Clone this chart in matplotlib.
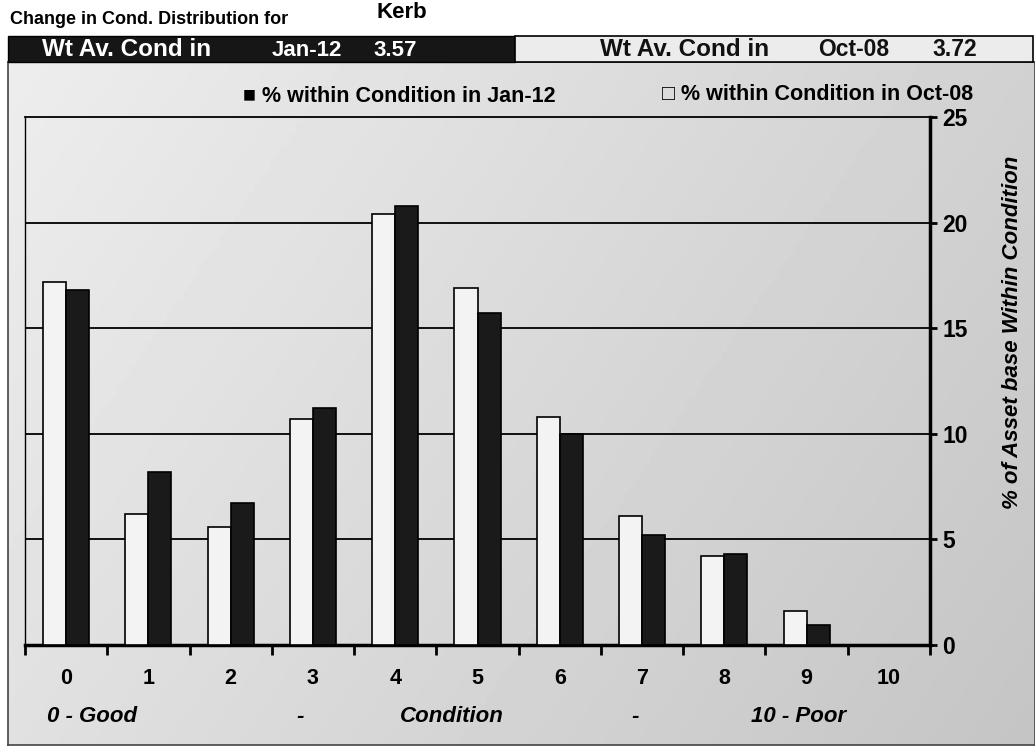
import matplotlib.pyplot as plt
import numpy as np
from matplotlib.patches import Rectangle
from matplotlib.transforms import blended_transform_factory

plt.rcParams['font.family'] = ['Liberation Sans', 'DejaVu Sans']
plt.rcParams['font.weight'] = 'bold'

# data
categories = [0, 1, 2, 3, 4, 5, 6, 7, 8, 9, 10]
pct_oct08 = [17.2, 6.2, 5.6, 10.7, 20.4, 16.9, 10.8, 6.1, 4.2, 1.6, 0.0]
pct_jan12 = [16.8, 8.2, 6.7, 11.2, 20.8, 15.7, 10.0, 5.2, 4.3, 0.95, 0.0]
y_ticks = [0, 5, 10, 15, 20, 25]
scale_words = ['0 - Good', '-', 'Condition', '-', '10 - Poor']
scale_pos = [0.31, 2.84, 4.69, 6.91, 8.9]
asset = 'Kerb'
new_date, new_avg = 'Jan-12', '3.57'
old_date, old_avg = 'Oct-08', '3.72'

W, H = 1035, 749
fig = plt.figure(figsize=(W / 100, H / 100), dpi=100)
fig.patch.set_facecolor('white')


def fx(px):
    return px / W


def fy(py):
    return 1 - py / H


# gradient background of the chart box
bg = fig.add_axes([fx(8), fy(745), fx(1027), (745 - 62) / H])
gx = np.linspace(0, 1, 200)
gy = np.linspace(0, 1, 200)
GX, GY = np.meshgrid(gx, gy)
shade = 0.93 - 0.11 * GX - 0.05 * GY
bg.imshow(shade, cmap='gray', vmin=0, vmax=1, aspect='auto', extent=[0, 1, 1, 0])
bg.set_xticks([])
bg.set_yticks([])
for s in bg.spines.values():
    s.set_color('#444444')
    s.set_linewidth(1.2)

# header bars
fig.patches.append(Rectangle((fx(8), fy(62)), fx(507), 26 / H, transform=fig.transFigure,
                             facecolor='#161616', edgecolor='black', zorder=2))
fig.patches.append(Rectangle((fx(515), fy(62)), fx(518), 26 / H, transform=fig.transFigure,
                             facecolor='#ececec', edgecolor='black', lw=1.2, zorder=2))

fig.text(fx(10), fy(19), 'Change in Cond. Distribution for', fontsize=13, va='center', ha='left')
fig.text(fx(376), fy(13), asset, fontsize=16, va='center', ha='left')

fig.text(fx(42), fy(50), 'Wt Av. Cond in', color='white', fontsize=17.5, va='center', zorder=3)
fig.text(fx(272), fy(50), new_date, color='white', fontsize=16, va='center', zorder=3)
fig.text(fx(373), fy(50), new_avg, color='white', fontsize=16, va='center', zorder=3)
fig.text(fx(600), fy(49), 'Wt Av. Cond in', color='#111111', fontsize=17.5, va='center', zorder=3)
fig.text(fx(818), fy(49), old_date, color='#111111', fontsize=16.5, va='center', zorder=3)
fig.text(fx(932), fy(49), old_avg, color='#111111', fontsize=16.5, va='center', zorder=3)

fig.text(fx(243), fy(97), '\u25a0 % within Condition in ' + new_date, fontsize=15.5, va='center')
fig.text(fx(662), fy(95), '\u25a1 % within Condition in ' + old_date, fontsize=15.5, va='center')

# main plot
ax = fig.add_axes([fx(25), fy(645), fx(905), (645 - 117) / H])
ax.patch.set_alpha(0)
x = np.array(categories)
bw = 0.28
ax.bar(x - bw / 2, pct_oct08, bw, color='#f3f3f3', edgecolor='black', linewidth=1.2, zorder=3)
ax.bar(x + bw / 2, pct_jan12, bw, color='#1a1a1a', edgecolor='black', linewidth=1.2, zorder=3)

ax.set_xlim(-0.5, 10.5)
ax.set_ylim(0, 25)
for yv in y_ticks[1:-1]:
    ax.axhline(yv, color='black', lw=1.3, zorder=1)

ax.yaxis.tick_right()
ax.set_yticks(y_ticks)
ax.tick_params(axis='y', direction='out', length=5, width=2, labelsize=16.5, pad=4)
fig.text(fx(1012), fy(332), '% of Asset base Within Condition', fontsize=16, style='italic',
         rotation=90, ha='center', va='center')

ax.set_xticks(np.arange(-0.5, 11, 1))
ax.set_xticklabels([])
ax.tick_params(axis='x', direction='out', length=7, width=2)
tr = blended_transform_factory(ax.transData, ax.transAxes)
for c in categories:
    ax.text(c, -0.043, str(c), transform=tr, ha='center', va='top', fontsize=15.5)
for w, p in zip(scale_words, scale_pos):
    ax.text(p, -0.115, w, transform=tr, ha='center', va='top', fontsize=16, style='italic')

ax.spines['left'].set_linewidth(1.0)
ax.spines['top'].set_linewidth(1.3)
ax.spines['right'].set_linewidth(2.5)
ax.spines['bottom'].set_linewidth(2.5)

fig.savefig('out.png', dpi=100)
